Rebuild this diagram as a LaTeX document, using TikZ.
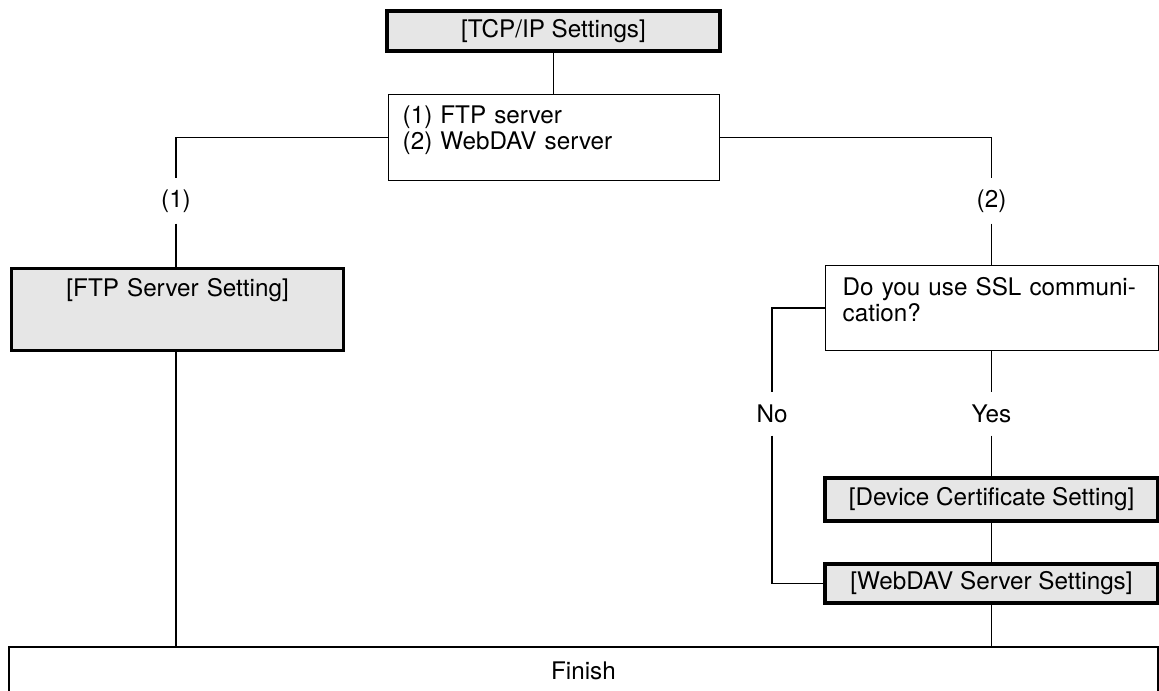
\documentclass[tikz,border=0pt]{standalone}
\usepackage{fontspec}
\setmainfont{TeX Gyre Heros}
\definecolor{boxgray}{HTML}{E6E6E6}
\begin{document}
\begin{tikzpicture}[x=0.02cm,y=-0.02cm,line width=0.8pt,
    font=\fontsize{13.8}{14.74}\selectfont,
    setbox/.style={draw,line width=1.9pt,fill=boxgray,inner sep=0pt},
    plainbox/.style={draw,inner sep=0pt},
    lbl/.style={inner sep=0pt,minimum height=0.84cm}]
    \useasboundingbox (0,0) rectangle (1159,690);
    \clip (0,0) rectangle (1159,690);

    \node[setbox,minimum width=6.66cm,minimum height=0.8cm] (tcp) at (553.5,31) {[TCP/IP Settings]};
    \node[plainbox,anchor=north west,inner xsep=0.28cm,text width=6.06cm,align=left,text height=0.58cm,text depth=1.14cm] (menu) at (388,94) {(1) FTP server\\(2) WebDAV server};

    \node[setbox,anchor=north west,text width=6.64cm,align=center,text height=0.56cm,text depth=1.08cm] (ftp) at (10,267) {[FTP Server Setting]};
    \node[plainbox,anchor=north west,inner xsep=0.34cm,text width=5.98cm,align=left,text height=0.6cm,text depth=1.1cm] (ssl) at (825,265) {Do you use SSL communi-\\cation?};

    \node[setbox,minimum width=6.66cm,minimum height=0.86cm] (cert) at (991.5,499.5) {[Device Certificate Setting]};
    \node[setbox,minimum width=6.66cm,minimum height=0.78cm] (webdav) at (991.5,583.5) {[WebDAV Server Settings]};
    \node[plainbox,minimum width=22.98cm,minimum height=0.94cm] (finish) at (583.5,670.5) {Finish};

    \node[lbl,minimum height=0.88cm] (one) at (176,201) {(1)};
    \node[lbl,minimum height=0.88cm] (two) at (991.5,201) {(2)};
    \node[lbl] (no) at (772,414) {No};
    \node[lbl] (yes) at (991.5,414) {Yes};

    \draw (tcp.south) -- (tcp.south |- menu.north);
    \draw (menu.west) -| (one.north);
    \draw (one.south) -- (one.south |- ftp.north);
    \draw (menu.east) -| (two.north);
    \draw (two.south) -- (two.south |- ssl.north);
    \draw (one.south |- ftp.south) -- (one.south |- finish.north);

    \draw (yes.north |- ssl.south) -- (yes.north);
    \draw (yes.south) -- (yes.south |- cert.north);
    \draw (yes.south |- cert.south) -- (yes.south |- webdav.north);
    \draw (yes.south |- webdav.south) -- (yes.south |- finish.north);
    \draw (ssl.west) -| (no.north);
    \draw (no.south) |- (webdav.west);

\end{tikzpicture}
\end{document}
